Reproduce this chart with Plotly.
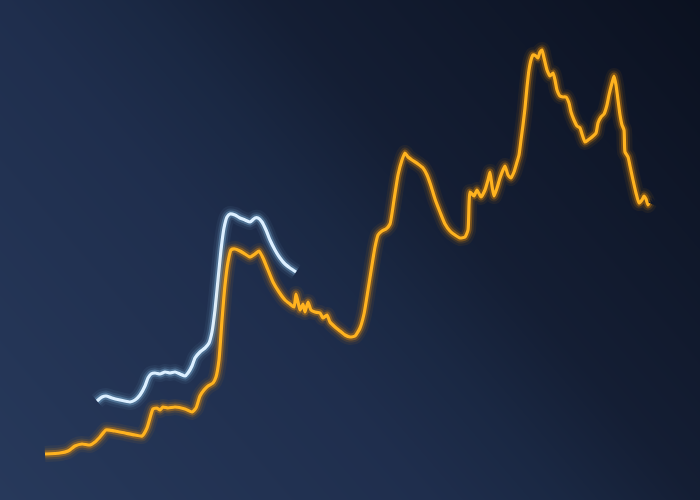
import numpy as np
import plotly.graph_objects as go

# Orange series: position along the time axis (t) and level (v)
t_orange = [45, 60, 68, 75, 82, 90, 95, 100, 106, 115, 125, 135, 142, 147, 150, 153, 157, 160, 163, 168,
            175, 185, 192, 196, 200, 204, 208, 213, 216, 219, 222, 225, 228, 231, 235, 240, 245, 250, 255, 259,
            263, 268, 273, 279, 285, 290, 294, 296, 298, 300, 303, 305, 308, 311, 315, 320, 323, 327, 330, 335,
            340, 345, 350, 355, 360, 364, 368, 372, 375, 378, 382, 386, 390, 394, 398, 402, 405, 408, 412, 418,
            423, 427, 431, 435, 440, 445, 450, 455, 460, 465, 468, 469, 470, 474, 477, 481, 485, 488, 490, 492,
            494, 497, 500, 503, 505, 508, 511, 514, 517, 519, 521, 523, 525, 527, 529, 531, 533, 536, 538, 540,
            542, 544, 547, 550, 553, 555, 557, 560, 563, 566, 569, 571, 574, 577, 580, 582, 585, 588, 592, 596,
            598, 601, 604, 607, 609, 612, 614, 616, 618, 620, 622, 624, 625, 628, 630, 633, 636, 639, 642, 644,
            646, 648, 649]
y_orange_px = [454, 453, 451, 446, 444, 445, 442, 437, 430, 431, 433, 435, 436, 428, 418, 409, 408, 410, 407, 408,
               407, 409, 412, 408, 396, 390, 386, 383, 377, 360, 320, 285, 262, 250, 249, 251, 254, 257, 254, 251,
               258, 270, 282, 292, 300, 304, 307, 294, 302, 310, 304, 312, 302, 310, 312, 313, 318, 315, 322, 327,
               331, 335, 337, 336, 328, 314, 290, 265, 247, 235, 231, 229, 224, 200, 175, 160, 153, 157, 160, 164,
               168, 175, 186, 199, 212, 224, 231, 235, 238, 237, 230, 205, 192, 196, 190, 197, 190, 180, 172, 186,
               196, 188, 178, 170, 166, 175, 178, 172, 162, 155, 140, 125, 108, 87, 70, 60, 55, 56, 58, 52,
               50, 58, 70, 76, 73, 80, 90, 96, 97, 97, 103, 112, 120, 126, 128, 134, 142, 140, 137, 133,
               123, 117, 114, 105, 95, 83, 76, 85, 100, 115, 125, 130, 152, 157, 166, 180, 193, 203, 200, 196,
               199, 205, 203]

# Light blue series
t_blue = [97, 102, 106, 112, 120, 130, 135, 140, 145, 148, 151, 155, 160, 165, 170, 175, 180, 185, 188, 192,
          195, 200, 205, 209, 212, 215, 218, 221, 224, 227, 230, 235, 240, 245, 250, 255, 258, 262, 266, 270,
          275, 280, 285, 290, 296]
y_blue_px = [401, 397, 396, 398, 400, 402, 400, 395, 386, 378, 374, 373, 374, 372, 373, 372, 374, 376, 373, 366,
             358, 352, 348, 343, 332, 310, 280, 250, 228, 217, 214, 215, 218, 220, 222, 218, 218, 222, 230, 240,
             250, 258, 264, 268, 272]

H = 500
v_orange = [H - y for y in y_orange_px]
v_blue = [H - y for y in y_blue_px]

fig = go.Figure()

# background gradient (lighter lower-left, darker upper-right)
gx = np.linspace(0, 700, 36)
gy = np.linspace(0, 500, 26)
XX, YY = np.meshgrid(gx / 700, gy / 500)
Z = 0.62 * XX + 0.38 * YY
fig.add_trace(go.Heatmap(
    x=gx, y=gy, z=Z, zsmooth="best", showscale=False, hoverinfo="skip",
    colorscale=[[0.0, "#27395b"], [0.38, "#1f2e4d"], [0.5, "#1a2843"], [0.62, "#141e34"], [1.0, "#0b1120"]],
    zmin=0, zmax=1,
))


def glow_line(t, v, core, glow):
    for w, op in [(16, 0.06), (11, 0.12), (7, 0.3)]:
        fig.add_trace(go.Scatter(x=t, y=v, mode="lines", line=dict(color=glow, width=w, shape="spline", smoothing=0.5),
                                 opacity=op, hoverinfo="skip", showlegend=False))
    fig.add_trace(go.Scatter(x=t, y=v, mode="lines", line=dict(color=core, width=3.2, shape="spline", smoothing=0.5),
                             hoverinfo="skip", showlegend=False))


glow_line(t_blue, v_blue, "#dcefff", "#8fc8ee")
glow_line(t_orange, v_orange, "#ffb31f", "#ff9800")

fig.update_layout(
    width=700, height=500,
    margin=dict(l=0, r=0, t=0, b=0),
    paper_bgcolor="#172540", plot_bgcolor="#172540",
    showlegend=False,
    xaxis=dict(range=[0, 700], visible=False, fixedrange=True),
    yaxis=dict(range=[0, 500], visible=False, fixedrange=True),
)

fig.write_html("out.html", config={"displayModeBar": False},
               post_script="document.body.style.margin='0';document.body.style.background='#0b1120';")
